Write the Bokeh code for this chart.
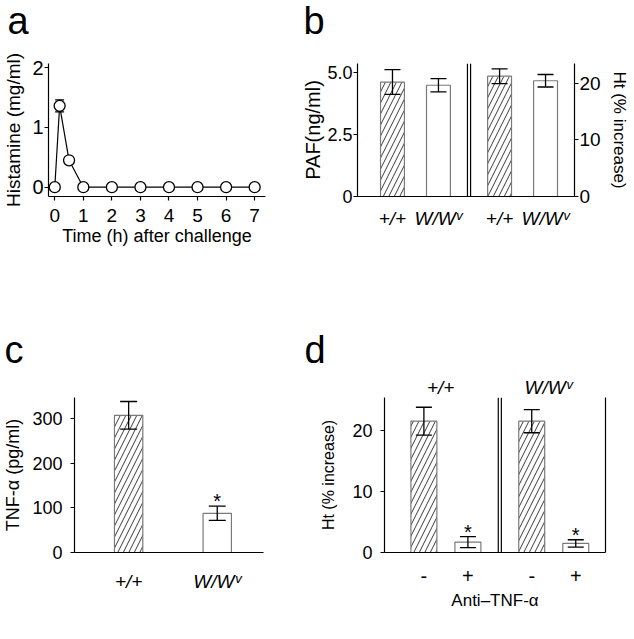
import numpy as np
from bokeh.plotting import figure
from bokeh.layouts import row, column
from bokeh.models import (Range1d, LinearAxis, FixedTicker, Whisker, TeeHead,
                          ColumnDataSource, Span)
from bokeh.core.properties import value
from bokeh.embed import file_html
from bokeh.resources import INLINE

FONT = "Liberation Sans"

# ---------------- data ----------------
a_time = [0, 0.17, 0.5, 1, 2, 3, 4, 5, 6, 7]
a_histamine = [0, 1.36, 0.45, 0, 0, 0, 0, 0, 0, 0]
a_error = [0, 0.10, 0.02, 0, 0, 0, 0, 0, 0, 0]
a_xticks = [0, 1, 2, 3, 4, 5, 6, 7]
a_yticks = [0, 1, 2]

b_labels = ["+/+", "W/W\u1d5b", "+/+", "W/W\u1d5b"]
b_paf = [4.63, 4.50]
b_paf_err = [0.50, 0.27]
b_ht = [21.2, 20.4]
b_ht_err = [1.3, 1.1]
b_paf_ticks = [0, 2.5, 5.0]
b_paf_ticklabels = ["0", "2.5", "5.0"]
b_ht_ticks = [0, 10, 20]

c_labels = ["+/+", "W/W\u1d5b"]
c_tnf = [308, 88]
c_err = [31, 16]
c_sig = [False, True]
c_yticks = [0, 100, 200, 300]

d_groups = ["+/+", "W/W\u1d5b"]
d_treatment = ["-", "+", "-", "+"]
d_ht = [21.6, 1.7, 21.6, 1.5]
d_err = [2.3, 0.9, 1.9, 0.6]
d_sig = [False, True, False, True]
d_yticks = [0, 10, 20]

panel_letters = ["a", "b", "c", "d"]

HATCH = ["/", " "]
BAR_LINE = "#7a7a7a"
HATCH_COLOR = "#3a3a3a"


def make_fig(width, height, left, right, top, bottom, xr, yr):
    p = figure(width=width, height=height, x_range=xr, y_range=yr,
               title_location=None, output_backend="svg", toolbar_location=None,
               min_border_left=left, min_border_right=right,
               min_border_top=top, min_border_bottom=bottom)
    p.outline_line_color = None
    p.grid.visible = False
    p.background_fill_color = "white"
    p.border_fill_color = "white"
    return p


def style_axis(ax, size="19px", label_size="19px", ticks=True):
    ax.axis_line_color = "black"
    ax.axis_line_width = 1.2
    ax.major_tick_line_color = "black" if ticks else None
    ax.major_tick_line_width = 1.2
    ax.major_tick_out = 4 if ticks else 0
    ax.major_tick_in = 0
    ax.minor_tick_line_color = None
    ax.minor_tick_out = 0
    ax.minor_tick_in = 0
    ax.major_label_text_font = FONT
    ax.major_label_text_font_size = size
    ax.major_label_text_color = "black"
    ax.axis_label_text_font = FONT
    ax.axis_label_text_font_size = label_size
    ax.axis_label_text_font_style = "normal"
    ax.axis_label_text_color = "black"


def whisker(src, head, level="annotation", **kw):
    return Whisker(source=src, base="x", upper="up", lower="lo",
                   line_color="black", line_width=1.3, level=level,
                   upper_head=TeeHead(size=head, line_width=1.3, line_color="black"),
                   lower_head=TeeHead(size=head, line_width=1.3, line_color="black"),
                   **kw)


def letter_fig(width, height, xs, ypos, letters):
    p = figure(width=width, height=height, x_range=Range1d(0, width),
               y_range=Range1d(0, height), title_location=None, output_backend="svg",
               toolbar_location=None, min_border=0,
               x_axis_type=None, y_axis_type=None)
    p.outline_line_color = None
    p.background_fill_color = "white"
    p.border_fill_color = "white"
    p.text(x=xs, y=[ypos] * len(xs), text=letters, text_font=value(FONT),
           text_font_size="38px", text_baseline="alphabetic", text_align="left",
           text_color="black")
    return p


# ---------------- panel a ----------------
pa = make_fig(296, 209, 42, 31, 19, 57, Range1d(-0.22, 7.38), Range1d(-0.155, 2.067))
style_axis(pa.xaxis[0], "19px", "18px")
style_axis(pa.yaxis[0], "20px", "19px")
pa.xaxis.ticker = FixedTicker(ticks=a_xticks)
pa.yaxis.ticker = FixedTicker(ticks=a_yticks)
pa.xaxis.major_label_standoff = 8
pa.yaxis.major_label_standoff = 1
pa.xaxis.axis_label = "Time (h) after challenge"
pa.yaxis.axis_label = "Histamine (mg/ml)"
pa.xaxis.axis_label_standoff = 1
pa.yaxis.axis_label_standoff = 5

t = np.array(a_time, dtype=float)
h = np.array(a_histamine, dtype=float)
e = np.array(a_error, dtype=float)
m = e > 0.05
pa.add_layout(whisker(ColumnDataSource(dict(x=t[m], up=h[m] + e[m], lo=h[m] - e[m])), 9,
                      level="underlay"))
src_a = ColumnDataSource(dict(x=a_time, y=a_histamine))
pa.line("x", "y", source=src_a, line_color="black", line_width=1.2)
pa.scatter("x", "y", source=src_a, size=11, fill_color="white", line_color="black",
           line_width=1.3)

# ---------------- panel b ----------------
gap_b = 0.33
xb = [i + gap_b * (i // 2) for i in range(len(b_labels))]
pb = make_fig(338, 209, 61, 60, 14, 52, Range1d(-0.761, 3.96), Range1d(0, 5.38))
pb.extra_y_ranges = {"ht": Range1d(0, 23.44)}
rax = LinearAxis(y_range_name="ht", axis_label="Ht (% increase)",
                 ticker=FixedTicker(ticks=b_ht_ticks))
pb.add_layout(rax, "right")
style_axis(pb.xaxis[0], "19px", "19px", ticks=False)
style_axis(pb.yaxis[0], "18px", "20px")
style_axis(rax, "19px", "17px")
pb.yaxis[0].ticker = FixedTicker(ticks=b_paf_ticks)
pb.yaxis[0].major_label_overrides = dict(zip(b_paf_ticks, b_paf_ticklabels))
pb.yaxis[0].axis_label = "PAF(ng/ml)"
pb.yaxis[0].major_label_standoff = 1
pb.yaxis[0].axis_label_standoff = 0
rax.major_label_standoff = 1
rax.axis_label_standoff = 6
pb.xaxis.ticker = FixedTicker(ticks=xb)
pb.xaxis.major_label_overrides = {float(x): lab for x, lab in zip(xb, b_labels)}
pb.xaxis.major_label_standoff = 11
pb.xaxis.major_label_text_font_style = "italic"

pb.vbar(x=xb[:2], top=b_paf, width=0.52, bottom=0, fill_color="white",
        line_color=BAR_LINE, line_width=1.2, hatch_pattern=HATCH, hatch_scale=11,
        hatch_color=HATCH_COLOR, hatch_weight=1)
pb.vbar(x=xb[2:], top=b_ht, width=0.52, bottom=0, fill_color="white",
        line_color=BAR_LINE, line_width=1.2, hatch_pattern=HATCH, hatch_scale=11,
        hatch_color=HATCH_COLOR, hatch_weight=1, y_range_name="ht")
v = np.array(b_paf); ev = np.array(b_paf_err)
pb.add_layout(whisker(ColumnDataSource(dict(x=xb[:2], up=v + ev, lo=v - ev)), 16))
v = np.array(b_ht); ev = np.array(b_ht_err)
pb.add_layout(whisker(ColumnDataSource(dict(x=xb[2:], up=v + ev, lo=v - ev)), 16,
                      y_range_name="ht"))
mid_b = (xb[1] + xb[2]) / 2
for off in (-0.034, 0.034):
    pb.add_layout(Span(location=mid_b + off, dimension="height", line_color="black",
                       line_width=1.2))

# ---------------- panel c ----------------
xc = list(range(len(c_labels)))
pc = make_fig(296, 266, 71, 33, 15, 87, Range1d(-0.611, 1.522), Range1d(0, 348))
style_axis(pc.xaxis[0], "19px", "19px", ticks=False)
style_axis(pc.yaxis[0], "18px", "18px")
pc.yaxis.ticker = FixedTicker(ticks=c_yticks)
pc.yaxis.axis_label = "TNF-\u03b1 (pg/ml)"
pc.yaxis.major_label_standoff = 8
pc.yaxis.axis_label_standoff = 6
pc.xaxis.ticker = FixedTicker(ticks=xc)
pc.xaxis.major_label_overrides = {x: lab for x, lab in zip(xc, c_labels)}
pc.xaxis.major_label_standoff = 18
pc.xaxis.major_label_text_font_style = "italic"
pc.vbar(x=xc, top=c_tnf, width=0.32, bottom=0, fill_color="white",
        line_color=BAR_LINE, line_width=1.2, hatch_pattern=HATCH, hatch_scale=11,
        hatch_color=HATCH_COLOR, hatch_weight=1)
v = np.array(c_tnf, dtype=float); ev = np.array(c_err, dtype=float)
pc.add_layout(whisker(ColumnDataSource(dict(x=xc, up=v + ev, lo=v - ev)), 17))
sig = np.array(c_sig)
pc.text(x=np.array(xc)[sig], y=(v + ev)[sig], text=["*"] * int(sig.sum()),
        text_font=value(FONT), text_font_size="20px", text_align="center",
        text_baseline="alphabetic", y_offset=-5, text_color="black")

# ---------------- panel d ----------------
gap_d = 0.45
xd = [i + gap_d * (i // 2) for i in range(len(d_treatment))]
pd_ = make_fig(338, 266, 88, 29, 22, 72, Range1d(-0.895, 4.126), Range1d(0, 25.5))
style_axis(pd_.xaxis[0], "20px", "17px", ticks=False)
style_axis(pd_.yaxis[0], "18px", "16px")
pd_.yaxis.ticker = FixedTicker(ticks=d_yticks)
pd_.yaxis.axis_label = "Ht (% increase)"
pd_.yaxis.major_label_standoff = 8
pd_.yaxis.axis_label_standoff = 12
pd_.xaxis.ticker = FixedTicker(ticks=xd)
pd_.xaxis.major_label_overrides = {float(x): lab for x, lab in zip(xd, d_treatment)}
pd_.xaxis.major_label_standoff = 16
pd_.xaxis.axis_label = "Anti\u2013TNF-\u03b1"
pd_.xaxis.axis_label_standoff = 5

gcent = [(xd[2 * k] + xd[2 * k + 1]) / 2 - 0.12 for k in range(len(d_groups))]
top_ax = LinearAxis(ticker=FixedTicker(ticks=gcent),
                    major_label_overrides={float(x): g for x, g in zip(gcent, d_groups)})
style_axis(top_ax, "19px", "19px", ticks=False)
top_ax.axis_line_color = None
top_ax.major_label_standoff = 0
top_ax.major_label_text_font_style = "italic"
pd_.add_layout(top_ax, "above")

right_ax = LinearAxis(ticker=FixedTicker(ticks=[]))
style_axis(right_ax, ticks=False)
pd_.add_layout(right_ax, "right")

pd_.vbar(x=xd, top=d_ht, width=0.59, bottom=0, fill_color="white",
         line_color=BAR_LINE, line_width=1.2, hatch_pattern=HATCH * 2, hatch_scale=11,
         hatch_color=HATCH_COLOR, hatch_weight=1)
v = np.array(d_ht); ev = np.array(d_err)
pd_.add_layout(whisker(ColumnDataSource(dict(x=xd, up=v + ev, lo=v - ev)), 16))
sig = np.array(d_sig)
pd_.text(x=np.array(xd)[sig], y=(v + ev)[sig], text=["*"] * int(sig.sum()),
         text_font=value(FONT), text_font_size="20px", text_align="center",
         text_baseline="alphabetic", y_offset=-5, text_color="black")
mid_d = (xd[1] + xd[2]) / 2
for off in (-0.035, 0.035):
    pd_.add_layout(Span(location=mid_d + off, dimension="height", line_color="black",
                        line_width=1.2))

# ---------------- panel letters ----------------
top_letters = letter_fig(634, 44, [7, 303], 23.4, panel_letters[:2])
mid_letters = letter_fig(634, 120, [4, 304], 23.4, panel_letters[2:])

layout = column(top_letters, row(pa, pb), mid_letters, row(pc, pd_))
open("out.html", "w").write(file_html(layout, INLINE))
